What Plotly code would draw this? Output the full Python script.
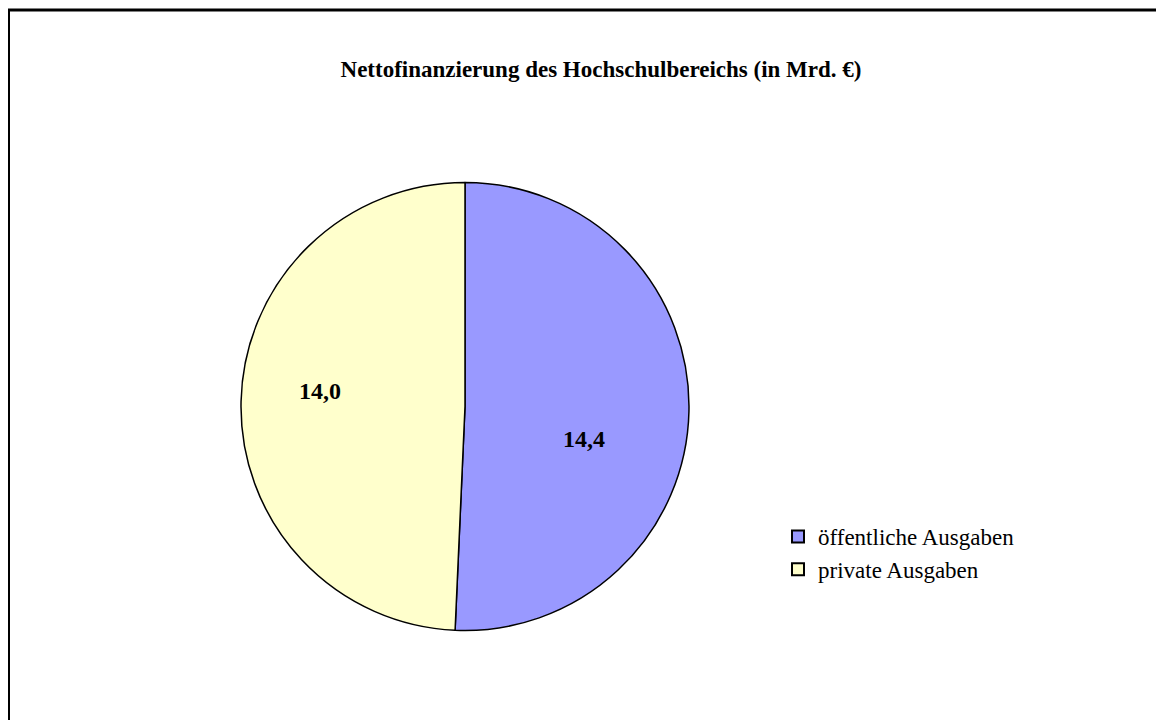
import plotly.graph_objects as go

labels = ["öffentliche Ausgaben", "private Ausgaben"]
values = [14.4, 14.0]
text_labels = ["14,4", "14,0"]
colors = ["#9999FF", "#FFFFCC"]

# page has an 8px body margin; figure coordinates below are page coordinates minus 8
W, H = 1156, 712
cx, cy, r = 457, 398.5, 224
label_pos = [(576, 431), (312, 383)]  # label centres (figure px)

fig = go.Figure(go.Pie(
    labels=labels, values=values,
    textinfo="none",
    marker=dict(colors=colors, line=dict(color="black", width=1.5)),
    sort=False, direction="clockwise", rotation=0,
    domain=dict(x=[(cx - r) / W, (cx + r) / W], y=[(H - cy - r) / H, (H - cy + r) / H]),
    hoverinfo="label+value",
))

annotations = []
for t, (px, py) in zip(text_labels, label_pos):
    annotations.append(dict(text=f"<b>{t}</b>", x=px / W, y=1 - py / H, xref="paper", yref="paper",
                            xanchor="center", yanchor="middle", showarrow=False,
                            font=dict(family="Liberation Serif", size=24, color="black")))

fig.update_layout(
    width=W, height=H,
    margin=dict(l=0, r=0, t=0, b=0),
    paper_bgcolor="white",
    title=dict(text="<b>Nettofinanzierung des Hochschulbereichs (in Mrd. €)</b>",
               x=593 / W, xanchor="center", y=1 - 61 / H, yanchor="middle",
               font=dict(family="Liberation Serif", size=23, color="black")),
    legend=dict(x=770 / W, xanchor="left", y=1 - 507 / H, yanchor="top",
                font=dict(family="Liberation Serif", size=23, color="black"),
                itemsizing="constant"),
    annotations=annotations,
    shapes=[
        dict(type="line", xref="paper", yref="paper", x0=0, x1=1.01, y0=1 - 2 / H, y1=1 - 2 / H,
             line=dict(color="black", width=3)),
        dict(type="line", xref="paper", yref="paper", x0=0.5 / W, x1=0.5 / W, y0=1 - 2 / H, y1=-0.01,
             line=dict(color="black", width=3)),
    ],
)

fig.write_html("out.html")
